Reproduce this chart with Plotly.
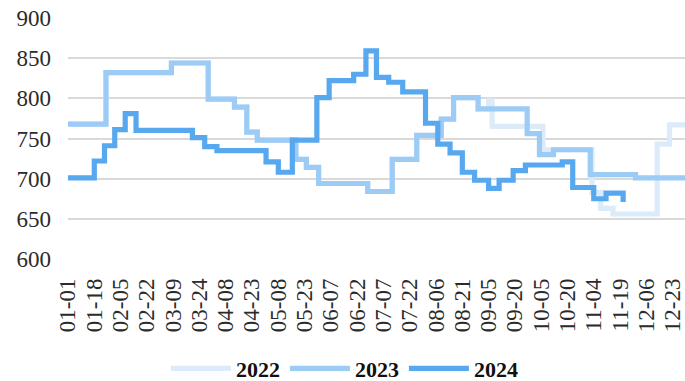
import numpy as np
import pandas as pd
import plotly.graph_objects as go

# Axis labels: every labelled trading-day slot, spaced evenly on the axis
tick_labels = ["01-01", "01-18", "02-05", "02-22", "03-09", "03-24", "04-08", "04-23",
               "05-08", "05-23", "06-07", "06-22", "07-07", "07-22", "08-06", "08-21",
               "09-05", "09-20", "10-05", "10-20", "11-04", "11-19", "12-06", "12-23"]
axis_end = "12-31"

# Price level changes: the date (MM-DD) from which each level holds
dates_2022 = ["01-01", "01-26", "03-08", "03-29", "04-13", "04-20", "04-26", "05-18",
              "05-24", "05-31", "06-28", "07-12", "07-26", "08-09", "08-16", "08-30",
              "09-05", "09-07", "10-06", "11-03", "11-08", "11-15", "12-13", "12-21", "12-31"]
values_2022 = [768, 832, 844, 799, 789, 758, 748, 724,
               714, 694, 684, 724, 754, 774, 801, 787,
               797, 765, 736, 683, 663, 656, 743, 767, 767]

dates_2023 = ["01-01", "01-26", "03-08", "03-29", "04-13", "04-20", "04-26", "05-18",
              "05-24", "05-31", "06-28", "07-12", "07-26", "08-09", "08-16", "08-30",
              "09-27", "10-04", "10-12", "11-02", "11-29", "12-31"]
values_2023 = [768, 832, 844, 799, 789, 758, 748, 724,
               714, 694, 684, 724, 754, 774, 801, 787,
               756, 730, 736, 705, 701, 701]

dates_2024 = ["01-01", "01-18", "01-25", "02-01", "02-08", "02-15", "03-20", "03-27",
              "04-03", "05-01", "05-08", "05-16", "05-30", "06-06", "06-20", "06-27",
              "07-03", "07-10", "07-18", "07-31", "08-07", "08-14", "08-21", "08-28",
              "09-05", "09-11", "09-19", "09-26", "10-17", "10-23", "11-04", "11-11", "11-21"]
values_2024 = [701, 722, 741, 761, 781, 760, 751, 740,
               735, 721, 708, 748, 801, 822, 830, 859,
               826, 820, 808, 769, 743, 732, 708, 698,
               688, 698, 710, 717, 721, 689, 675, 682, 671]

series = [
    ("2022", dates_2022, values_2022, "#DCEBFA"),
    ("2023", dates_2023, values_2023, "#9CCBF6"),
    ("2024", dates_2024, values_2024, "#58A8F0"),
]


def day_of_year(mmdd):
    return pd.Timestamp(f"2023-{mmdd}").dayofyear - 1


tick_days = np.array([day_of_year(d) for d in tick_labels], dtype=float)
tick_slots = np.arange(len(tick_labels), dtype=float)
last_gap = tick_days[-1] - tick_days[-2]


def slot_position(mmdd_list):
    """Place calendar dates on the evenly spaced label slots."""
    days = np.array([day_of_year(d) for d in mmdd_list], dtype=float)
    pos = np.interp(days, tick_days, tick_slots)
    tail = days > tick_days[-1]
    pos[tail] = tick_slots[-1] + (days[tail] - tick_days[-1]) / last_gap
    return pos


font_family = "Liberation Serif, Times New Roman, serif"
text_color = "#2b2b2b"
grid_color = "#D9D9D9"

fig = go.Figure()
for name, dts, vals, color in series:
    fig.add_trace(go.Scatter(
        x=slot_position(dts), y=vals, name=name, mode="lines",
        line=dict(color=color, width=5.2, shape="hv"),
        hovertemplate="%{y}<extra>" + name + "</extra>",
    ))

x_end = slot_position([axis_end])[0]

fig.update_layout(
    width=685, height=381,
    margin=dict(l=68, r=0, t=18, b=122, autoexpand=False),
    paper_bgcolor="white", plot_bgcolor="white",
    font=dict(family=font_family, color=text_color, size=23),
    showlegend=True,
    legend=dict(
        orientation="h", x=0.448, xanchor="center", y=-0.455, yanchor="middle",
        font=dict(family=font_family, size=22, color="#111111", weight="bold"),
        itemwidth=60, tracegroupgap=0,
    ),
    xaxis=dict(
        range=[0, x_end], tickmode="array", tickvals=tick_slots, ticktext=tick_labels,
        tickangle=-90, showgrid=False, zeroline=False, showline=False, ticks="",
        ticklabelstandoff=14, tickfont=dict(size=23, color=text_color),
        ticklabeloverflow="allow", automargin=False,
    ),
    yaxis=dict(
        range=[600, 900], dtick=50, tick0=600, showgrid=True, gridcolor=grid_color,
        gridwidth=1.5, zeroline=False, showline=False, ticks="",
        ticklabelstandoff=16, tickfont=dict(size=23, color=text_color),
        automargin=False,
    ),
)

fig.write_html("out.html")
